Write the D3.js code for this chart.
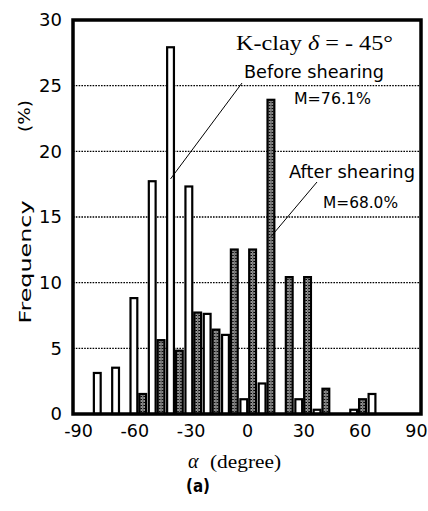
<!DOCTYPE html>
<html>
<head>
<meta charset="utf-8">
<script src="https://cdn.jsdelivr.net/npm/d3@7"></script>
<style>
    body { margin: 0; background: #fff; }
</style>
</head>
<body>
<div id="chart"></div>
<script>
// Data
var bins            =   [-90, -80, -70, -60, -50, -40, -30, -20, -10, 0, 10, 20, 30, 40, 50, 60, 70, 80, 90];
var before_shear    =   [0, 3.2, 3.6, 8.9, 17.8, 28.0, 17.4, 7.7, 6.1, 1.2, 2.4, 0, 1.2, 0.4, 0, 0.4, 1.6, 0, 0];
var after_shear     =   [0, 0, 0, 1.6, 5.7, 4.9, 7.8, 6.5, 12.6, 12.6, 24.0, 10.5, 10.5, 2.0, 0, 1.2, 0, 0, 0];
var x_ticks         =   [-90, -60, -30, 0, 30, 60, 90];
var y_ticks         =   [0, 5, 10, 15, 20, 25, 30];
var grid_ticks      =   [5, 10, 15, 20, 25];
var series          =   ['before', 'after'];

var chart_width     =   428;
var chart_height    =   511;
var left            =   73;
var right           =   421;
var top_y           =   20;
var bottom_y        =   414;

var rows = bins.map(function(b, i) {
    return { bin: b, before: before_shear[i], after: after_shear[i] };
});

// Scales
var x_band          =   d3.scaleBand()
    .domain(bins)
    .range([left + 1.2, right + 1.2])
    .padding(0);
var x_inner         =   d3.scaleBand()
    .domain(series)
    .range([0, x_band.bandwidth()])
    .paddingOuter(0.04)
    .paddingInner(0);
var x_label         =   d3.scaleLinear()
    .domain([-90, 90])
    .range([78, 416]);
var y_scale         =   d3.scaleLinear()
    .domain([0, 30])
    .range([bottom_y, top_y]);

// Create SVG
var svg             =   d3.select("#chart")
    .append("svg")
    .attr("width", chart_width)
    .attr("height", chart_height);

var defs = svg.append("defs");
var pat = defs.append("pattern")
    .attr("id", "hatch")
    .attr("patternUnits", "userSpaceOnUse")
    .attr("width", 3)
    .attr("height", 3);
pat.append("rect").attr("width", 3).attr("height", 3).attr("fill", "#999");
pat.append("rect").attr("x", 0).attr("y", 0).attr("width", 1).attr("height", 1).attr("fill", "#000");
pat.append("rect").attr("x", 1.5).attr("y", 1.5).attr("width", 1).attr("height", 1).attr("fill", "#000");
pat.append("rect").attr("x", 2).attr("y", 0).attr("width", 1).attr("height", 1).attr("fill", "#222");

// Grid lines
svg.append("g")
    .selectAll("line")
    .data(grid_ticks)
    .enter()
    .append("line")
    .attr("x1", left)
    .attr("x2", right)
    .attr("y1", function(d) { return y_scale(d); })
    .attr("y2", function(d) { return y_scale(d); })
    .attr("stroke", "#000")
    .attr("stroke-width", 1.3)
    .attr("stroke-dasharray", "1.6,1.2");

// Bars
var groups = svg.append("g")
    .selectAll("g")
    .data(rows)
    .enter()
    .append("g")
    .attr("transform", function(d) { return "translate(" + x_band(d.bin) + ",0)"; });

groups.selectAll("rect")
    .data(function(d) {
        return series.map(function(k) { return { key: k, value: d[k] }; })
            .filter(function(e) { return e.value > 0; });
    })
    .enter()
    .append("rect")
    .attr("x", function(d) { return x_inner(d.key) + 1; })
    .attr("width", x_inner.bandwidth() - 2)
    .attr("y", function(d) { return y_scale(d.value) + 1; })
    .attr("height", function(d) { return Math.max(0, bottom_y - y_scale(d.value) - 1); })
    .attr("fill", function(d) { return d.key === 'before' ? '#fff' : 'url(#hatch)'; })
    .attr("stroke", "#000")
    .attr("stroke-width", 2.2);

// Frame
svg.append("rect")
    .attr("x", left)
    .attr("y", top_y)
    .attr("width", right - left)
    .attr("height", bottom_y - top_y)
    .attr("fill", "none")
    .attr("stroke", "#000")
    .attr("stroke-width", 3.5);

// Axes
var x_axis          =   d3.axisBottom(x_label)
    .tickValues(x_ticks)
    .tickFormat(function(d) { return String(d); })
    .tickSize(0)
    .tickPadding(0);
var y_axis          =   d3.axisLeft(y_scale)
    .tickValues(y_ticks)
    .tickFormat(function(d) { return String(d); })
    .tickSize(0)
    .tickPadding(0);

var gx = svg.append("g")
    .attr("transform", "translate(0,425)")
    .call(x_axis);
gx.select(".domain").remove();
gx.selectAll("text")
    .attr("dy", "0.71em")
    .style("font-family", "DejaVu Sans")
    .style("font-size", "17.5px")
    .attr("fill", "#000");

var gy = svg.append("g")
    .attr("transform", "translate(62,0)")
    .call(y_axis);
gy.select(".domain").remove();
gy.selectAll("text")
    .style("font-family", "DejaVu Sans")
    .style("font-size", "18px")
    .attr("fill", "#000");

// Axis titles
svg.append("text")
    .attr("transform", "translate(31,262) rotate(-90)")
    .attr("text-anchor", "middle")
    .attr("textLength", 123)
    .attr("lengthAdjust", "spacingAndGlyphs")
    .style("font-family", "DejaVu Sans")
    .style("font-size", "15px")
    .text("Frequency");

svg.append("text")
    .attr("transform", "translate(30,116) rotate(-90)")
    .attr("text-anchor", "middle")
    .attr("textLength", 32)
    .attr("lengthAdjust", "spacingAndGlyphs")
    .style("font-family", "DejaVu Sans")
    .style("font-size", "15px")
    .text("(%)");

svg.append("text")
    .attr("x", 188)
    .attr("y", 468)
    .style("font-family", "Liberation Serif")
    .style("font-style", "italic")
    .style("font-size", "20px")
    .text("α");

svg.append("text")
    .attr("x", 210)
    .attr("y", 468)
    .attr("textLength", 71)
    .attr("lengthAdjust", "spacingAndGlyphs")
    .style("font-family", "Liberation Serif")
    .style("font-size", "18px")
    .text("(degree)");

svg.append("text")
    .attr("x", 186)
    .attr("y", 492)
    .attr("textLength", 24)
    .attr("lengthAdjust", "spacingAndGlyphs")
    .style("font-family", "DejaVu Sans")
    .style("font-weight", "bold")
    .style("font-size", "18px")
    .text("(a)");

// Annotations
var title = svg.append("text")
    .attr("x", 236)
    .attr("y", 50)
    .attr("textLength", 157)
    .attr("lengthAdjust", "spacingAndGlyphs")
    .style("font-family", "Liberation Serif")
    .style("font-size", "22px");
title.append("tspan").text("K-clay  ");
title.append("tspan").style("font-style", "italic").text("δ");
title.append("tspan").text(" = - 45°");

svg.append("text")
    .attr("x", 244)
    .attr("y", 78)
    .attr("textLength", 140)
    .attr("lengthAdjust", "spacingAndGlyphs")
    .style("font-family", "DejaVu Sans")
    .style("font-size", "17.5px")
    .text("Before shearing");

svg.append("text")
    .attr("x", 294)
    .attr("y", 104)
    .attr("textLength", 77)
    .attr("lengthAdjust", "spacingAndGlyphs")
    .style("font-family", "DejaVu Sans")
    .style("font-size", "15px")
    .text("M=76.1%");

svg.append("text")
    .attr("x", 289)
    .attr("y", 178)
    .attr("textLength", 126)
    .attr("lengthAdjust", "spacingAndGlyphs")
    .style("font-family", "DejaVu Sans")
    .style("font-size", "17.5px")
    .text("After shearing");

svg.append("text")
    .attr("x", 323)
    .attr("y", 208)
    .attr("textLength", 75)
    .attr("lengthAdjust", "spacingAndGlyphs")
    .style("font-family", "DejaVu Sans")
    .style("font-size", "15px")
    .text("M=68.0%");

// Leader lines
svg.append("line")
    .attr("x1", 242).attr("y1", 83)
    .attr("x2", x_band(-40) + x_inner("before") + x_inner.bandwidth() / 2)
    .attr("y2", y_scale(17.9))
    .attr("stroke", "#000")
    .attr("stroke-width", 1);

svg.append("line")
    .attr("x1", 317).attr("y1", 182)
    .attr("x2", x_band(10) + x_inner("after") + x_inner.bandwidth() / 2)
    .attr("y2", y_scale(13.5))
    .attr("stroke", "#000")
    .attr("stroke-width", 1);
</script>
</body>
</html>
